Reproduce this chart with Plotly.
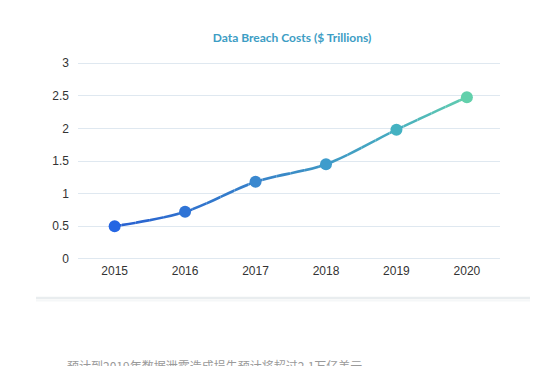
import plotly.graph_objects as go
import numpy as np

years = [2015, 2016, 2017, 2018, 2019, 2020]
costs = [0.5, 0.72, 1.18, 1.45, 1.98, 2.48]
y_ticks = [0, 0.5, 1, 1.5, 2, 2.5, 3]
y_tick_labels = ["0", "0.5", "1", "1.5", "2", "2.5", "3"]
title_text = "Data Breach Costs ($ Trillions)"
note_text = "预计到2019年数据泄露造成损失预计将超过2.1万亿美元"
marker_colors = ["#2566e3", "#2f74d6", "#3a88cf", "#3f9ccc", "#44b2c2", "#62d0ab"]

OFF = 8  # page body margin
W, H = 546 - OFF, 366 - OFF
ML, MR, MT, MB = 78 - OFF, 46, 60 - OFF, 104
XR = [2014.48, 2020.47]
YR = [-0.05, 3.05]
PH = H - MT - MB
PW = W - ML - MR

def py(pix):  # window pixel y -> paper y
    return 1 - (pix - OFF - MT) / PH

def px(pix):  # window pixel x -> paper x
    return (pix - OFF - ML) / PW

stops = [(0.0, (0x28, 0x60, 0xd2)), (0.45, (0x38, 0x86, 0xc8)),
         (0.8, (0x48, 0xae, 0xc0)), (1.0, (0x62, 0xcd, 0xae))]

def grad(t):
    for (t0, c0), (t1, c1) in zip(stops[:-1], stops[1:]):
        if t <= t1:
            f = (t - t0) / (t1 - t0) if t1 > t0 else 0
            return "rgb(%d,%d,%d)" % tuple(round(a + (b - a) * f) for a, b in zip(c0, c1))
    return "rgb(%d,%d,%d)" % stops[-1][1]

fig = go.Figure()
# invisible base trace so the main x/y subplot (ticks, grid) is created
fig.add_trace(go.Scatter(x=years, y=costs, mode="lines", opacity=0,
                         line=dict(width=0), hoverinfo="skip", showlegend=False))

layout_axes = {}
STEP = 0.2
edges = np.arange(years[0] - STEP / 2, years[-1] + STEP / 2 + 1e-9, STEP)
for i in range(len(edges) - 1):
    x0, x1 = edges[i], edges[i + 1]
    d0 = (x0 - XR[0]) / (XR[1] - XR[0])
    d1 = (x1 - XR[0]) / (XR[1] - XR[0])
    name = "x%d" % (i + 2)
    layout_axes["xaxis%d" % (i + 2)] = dict(domain=[d0, d1], range=[x0, x1],
                                             visible=False, anchor="y", fixedrange=True)
    t = ((x0 + x1) / 2 - years[0]) / (years[-1] - years[0])
    fig.add_trace(go.Scatter(x=years, y=costs, xaxis=name, yaxis="y", mode="lines",
                             line=dict(color=grad(min(max(t, 0), 1)), width=2.6,
                                       shape="spline", smoothing=1.0),
                             hoverinfo="skip", showlegend=False))
    idx = [k for k, yr in enumerate(years) if x0 <= yr < x1]
    if idx:
        fig.add_trace(go.Scatter(x=[years[k] for k in idx], y=[costs[k] for k in idx],
                                 xaxis=name, yaxis="y", mode="markers", cliponaxis=False,
                                 marker=dict(size=12, color=[marker_colors[k] for k in idx],
                                             line=dict(width=0)),
                                 showlegend=False))

fig.update_layout(
    width=W, height=H,
    margin=dict(l=ML, r=MR, t=MT, b=MB),
    paper_bgcolor="white", plot_bgcolor="rgba(0,0,0,0)",
    font=dict(family="Liberation Sans, Arial, sans-serif", color="#333333", size=12),
    title=dict(text="<b>" + title_text + "</b>", xref="container", x=(292 - OFF) / W,
               xanchor="center", y=1 - (38 - OFF) / H, yanchor="middle",
               font=dict(size=12, color="#3d9dc4", family="Lato, Open Sans, sans-serif")),
    xaxis=dict(range=XR, tickvals=years, ticktext=[str(y) for y in years],
               showgrid=False, zeroline=False, showline=False, ticks="", anchor="y",
               tickfont=dict(size=12, color="#333333")),
    yaxis=dict(range=YR, tickvals=y_ticks, ticktext=y_tick_labels, anchor="x",
               showgrid=True, gridcolor="#dfe8f0", gridwidth=1, zeroline=False,
               showline=False, ticks="", ticklabelstandoff=8,
               tickfont=dict(size=12, color="#333333")),
    shapes=[dict(type="line", xref="paper", yref="paper", x0=px(36), x1=px(530),
                 y0=py(298), y1=py(298), line=dict(color="#e9edef", width=2.5)),
            dict(type="line", xref="paper", yref="paper", x0=px(36), x1=px(530),
                 y0=py(300.5), y1=py(300.5), line=dict(color="#f5f7f8", width=2))],
    annotations=[dict(text=note_text, xref="paper", yref="paper", x=px(65), y=py(355),
                      xanchor="left", yanchor="top", showarrow=False,
                      font=dict(size=12, color="#9a9a9a",
                                family="Noto Sans CJK SC, sans-serif"))],
    **layout_axes,
)

fig.write_html("out.html")
